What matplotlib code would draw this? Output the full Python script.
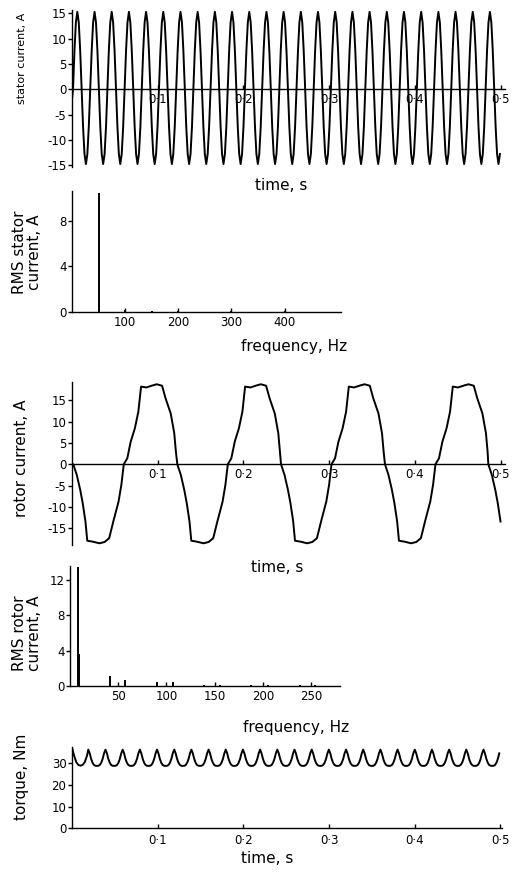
import matplotlib
matplotlib.use("Agg")
import matplotlib.pyplot as plt

# === DATA ===
# stator current, one 50 Hz cycle starting at an upward zero crossing
STATOR_CYCLE_DT = [0.0, 0.00167, 0.00334, 0.00502, 0.00669, 0.00836,
                   0.01003, 0.0117, 0.01337, 0.01505, 0.01672, 0.01839]
STATOR_CYCLE_I = [0.0, 7.6, 13.2, 15.3, 13.2, 7.6,
                  0.0, -7.4, -12.8, -14.8, -12.8, -7.4]
STATOR_CYCLE_START = [0.0012, 0.0213, 0.0413, 0.0614, 0.0814, 0.1015, 0.1216,
                      0.1416, 0.1617, 0.1817, 0.2018, 0.2219, 0.2419, 0.2620,
                      0.2820, 0.3021, 0.3222, 0.3422, 0.3623, 0.3823, 0.4024,
                      0.4225, 0.4425, 0.4626, 0.4826]
STATOR_LEAD_T = [0.0]
STATOR_LEAD_I = [-2.0]

# stator current spectrum
STATOR_FREQ = [50, 100, 150, 200, 250, 300, 350, 400, 450]
STATOR_RMS = [10.4, 0.15, 0.12, 0.05, 0.04, 0.05, 0.04, 0.05, 0.03]

# rotor current, one slip-frequency cycle starting at a downward zero crossing
ROTOR_CYCLE_DT = [0.0, 0.0041, 0.0081, 0.0110, 0.0142, 0.0163, 0.0223, 0.0305,
                  0.0365, 0.0419, 0.0467, 0.0528, 0.0561, 0.0589, 0.0630,
                  0.0670, 0.0718, 0.0759, 0.0791, 0.0853, 0.0913, 0.0974,
                  0.1036, 0.1076, 0.1137, 0.1178, 0.1197]
ROTOR_CYCLE_I = [0.0, -2.5, -6.0, -9.1, -13.4, -17.9, -18.1, -18.5,
                 -18.2, -17.3, -13.4, -8.75, -4.8, 0.0, 1.4,
                 5.3, 8.4, 12.3, 18.2, 18.0, 18.4, 18.75,
                 18.4, 15.5, 11.9, 7.3, 3.0]
ROTOR_CYCLE_START = [0.0015, 0.1229, 0.2439, 0.3652, 0.4858]
ROTOR_LEAD_T = [0.0]
ROTOR_LEAD_I = [0.0]

# rotor current spectrum
ROTOR_FREQ = [8.2, 8.9, 41, 57.4, 90, 106.6, 139, 156, 188, 205, 238, 254]
ROTOR_RMS = [13.5, 3.6, 1.1, 0.7, 0.5, 0.4, 0.15, 0.12, 0.1, 0.08, 0.08, 0.06]

# torque, one ripple cycle starting at a peak
TORQUE_CYCLE_DT = [0.0, 0.00167, 0.00334, 0.00501, 0.00668, 0.00835,
                   0.01003, 0.0117, 0.01337, 0.01504, 0.01671, 0.01838]
TORQUE_CYCLE_T = [36.3, 34.6, 32.0, 30.2, 29.2, 28.85,
                  28.8, 28.85, 29.2, 30.2, 32.0, 34.6]
TORQUE_CYCLE_START = [0.0190, 0.0391, 0.0591, 0.0792, 0.0992, 0.1193, 0.1393,
                      0.1594, 0.1794, 0.1995, 0.2195, 0.2396, 0.2596, 0.2797,
                      0.2997, 0.3198, 0.3398, 0.3599, 0.3799, 0.4000, 0.4200,
                      0.4401, 0.4601, 0.4802]
TORQUE_LEAD_T = [0.0, 0.0025, 0.005, 0.0075, 0.0100, 0.0125, 0.015, 0.0175]
TORQUE_LEAD_V = [37.2, 33.5, 30.5, 29.2, 28.9, 29.3, 30.6, 33.5]

TIME_TICKS = [0.1, 0.2, 0.3, 0.4, 0.5]
TIME_LABELS = ["0·1", "0·2", "0·3", "0·4", "0·5"]

# === LAYOUT (pixels) ===
W, H = 514, 872
TICK_FS = 8.5
LABEL_FS = 11
LW = 1.4


def tile_cycles(starts, dts, vals, t_end, lead_t, lead_v):
    t, v = list(lead_t), list(lead_v)
    for s in starts:
        for d, y in zip(dts, vals):
            if s + d <= t_end:
                t.append(s + d)
                v.append(y)
    return t, v


def px_axes(fig, left, top, right, bottom):
    return fig.add_axes([left / W, 1 - bottom / H, (right - left) / W, (bottom - top) / H])


def px_text(fig, x, y, s, **kw):
    fig.text(x / W, 1 - y / H, s, ha="center", va="center", **kw)


def style(ax, zero_axis=False):
    ax.spines["top"].set_visible(False)
    ax.spines["right"].set_visible(False)
    if zero_axis:
        ax.spines["bottom"].set_position(("data", 0))
    for sp in ax.spines.values():
        sp.set_linewidth(1.0)
    ax.tick_params(axis="y", direction="out", length=3, width=1, pad=1, labelsize=TICK_FS)
    ax.tick_params(axis="x", direction="in", length=3, width=1, pad=3, labelsize=TICK_FS)


fig = plt.figure(figsize=(W / 100, H / 100), dpi=100)
plt.rcParams["axes.unicode_minus"] = False

# stator current
ax1 = px_axes(fig, 72, 9.8, 504.8, 166.6)
t, v = tile_cycles(STATOR_CYCLE_START, STATOR_CYCLE_DT, STATOR_CYCLE_I, 0.5005,
                   STATOR_LEAD_T, STATOR_LEAD_I)
ax1.plot(t, v, color="black", lw=LW)
ax1.set_xlim(0, 0.505)
ax1.set_ylim(-15.3, 15.7)
ax1.set_yticks([-15, -10, -5, 0, 5, 10, 15])
ax1.set_xticks(TIME_TICKS, TIME_LABELS)
style(ax1, zero_axis=True)
px_text(fig, 22, 58, "stator current, A", rotation=90, fontsize=8)
px_text(fig, 281, 186, "time, s", fontsize=LABEL_FS)

# stator spectrum
ax2 = px_axes(fig, 72, 191.2, 340.9, 312)
ax2.vlines(STATOR_FREQ, 0, STATOR_RMS, color="black", lw=LW)
ax2.set_xlim(0, 506)
ax2.set_ylim(0, 10.6)
ax2.set_yticks([0, 4, 8])
ax2.set_xticks([100, 200, 300, 400])
style(ax2)
px_text(fig, 27, 252, "RMS stator\ncurrent, A", rotation=90, fontsize=LABEL_FS,
        linespacing=1.0)
px_text(fig, 294, 347, "frequency, Hz", fontsize=LABEL_FS)

# rotor current
ax3 = px_axes(fig, 72, 381.9, 504.8, 545)
t, v = tile_cycles(ROTOR_CYCLE_START, ROTOR_CYCLE_DT, ROTOR_CYCLE_I, 0.5015,
                   ROTOR_LEAD_T, ROTOR_LEAD_I)
ax3.plot(t, v, color="black", lw=LW)
ax3.set_xlim(0, 0.505)
ax3.set_ylim(-18.9, 19.3)
ax3.set_yticks([-15, -10, -5, 0, 5, 10, 15])
ax3.set_xticks(TIME_TICKS, TIME_LABELS)
style(ax3, zero_axis=True)
px_text(fig, 22, 458, "rotor current, A", rotation=90, fontsize=LABEL_FS)
px_text(fig, 277, 567, "time, s", fontsize=LABEL_FS)

# rotor spectrum
ax4 = px_axes(fig, 70, 566, 340, 686)
ax4.vlines(ROTOR_FREQ, 0, ROTOR_RMS, color="black", lw=LW)
ax4.set_xlim(0, 280)
ax4.set_ylim(0, 13.6)
ax4.set_yticks([0, 4, 8, 12])
ax4.set_xticks([50, 100, 150, 200, 250])
style(ax4)
px_text(fig, 27, 633, "RMS rotor\ncurrent, A", rotation=90, fontsize=LABEL_FS,
        linespacing=1.0)
px_text(fig, 296, 727, "frequency, Hz", fontsize=LABEL_FS)

# torque
ax5 = px_axes(fig, 72, 746.6, 502.2, 828.3)
t, v = tile_cycles(TORQUE_CYCLE_START, TORQUE_CYCLE_DT, TORQUE_CYCLE_T, 0.5,
                   TORQUE_LEAD_T, TORQUE_LEAD_V)
ax5.plot(t, v, color="black", lw=LW)
ax5.set_xlim(0, 0.502)
ax5.set_ylim(0, 37.7)
ax5.set_yticks([0, 10, 20, 30])
ax5.set_xticks(TIME_TICKS, TIME_LABELS)
style(ax5)
ax5.tick_params(axis="x", pad=4)
px_text(fig, 22, 777, "torque, Nm", rotation=90, fontsize=LABEL_FS)
px_text(fig, 267, 858, "time, s", fontsize=LABEL_FS)

fig.savefig("out.png", dpi=100)
